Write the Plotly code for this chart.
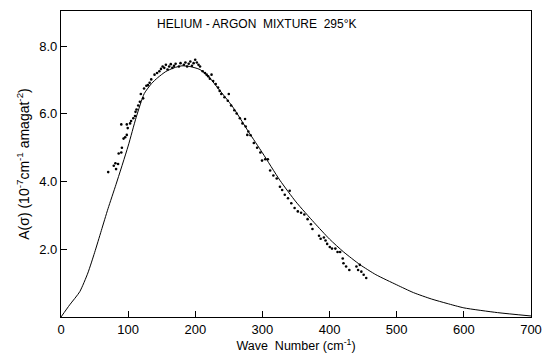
import plotly.graph_objects as go

# Theoretical curve (solid line)
curve_x = [0, 13, 28, 40, 50, 60, 70, 82, 100, 112, 124, 135, 144, 156, 168, 180, 192,
           207, 220, 231, 256, 280, 300, 326, 350, 377, 400, 421, 445, 469, 500, 525,
           552, 575, 600, 650, 700]
curve_y = [0, 0.36, 0.75, 1.3, 1.9, 2.55, 3.2, 3.92, 5.05, 5.9, 6.6, 6.9, 7.07, 7.25,
           7.36, 7.42, 7.40, 7.31, 7.1, 6.83, 6.2, 5.45, 4.85, 4.04, 3.4, 2.79, 2.3,
           1.92, 1.55, 1.25, 0.95, 0.72, 0.53, 0.4, 0.27, 0.13, 0.03]

# Measured points (dots)
point_x = [70.3, 78.6, 82, 81, 85, 85.9, 89.8, 90.7, 89.8, 93.2, 95.6, 98, 99.4, 98,
           102.9, 104.4, 107.7, 110.2, 111, 112.5, 115, 117.5, 118.9, 122.3, 123.7,
           127.1, 129.5, 132, 134.4, 139.3, 143.1, 146.5, 148.9, 151.4, 153.8, 156.2,
           158.7, 161.1, 163.5, 165.9, 168.4, 170.7,
           175.6, 178, 183, 185.3, 187.8, 190.2, 192.6, 195, 197.5, 199.9, 202.3,
           204.8, 207.1, 211, 214.4, 216.9, 219.3, 224.2, 221.7, 226.6, 230.4, 233.9,
           236.3, 238.7, 243.5, 249.9, 248.4, 253.3, 258.1, 261.6, 266.4, 274.1, 270.3,
           275.1, 279, 282.4,
           277.5, 287.2, 292.1, 296.9, 299.4, 304.2, 308.1, 311.5, 316.3, 321.3, 326.1,
           329.4, 333.3, 340.6, 338.1, 343, 347.9, 352.7, 357.6, 362.4, 367.3, 372.2,
           374.5, 384.3, 386.7, 391.5, 394, 396.4, 400.3, 403.6, 408.6, 411.9, 415.8,
           419.6, 420.7, 424.6, 429.4, 440, 442.5, 445, 447.3, 450.8, 454.6]
point_y = [4.28, 4.47, 4.37, 4.54, 4.52, 4.83, 4.86, 5.0, 5.69, 5.27, 5.31, 5.38, 5.58,
           5.69, 5.72, 5.79, 5.87, 5.94, 6.06, 6.13, 6.25, 6.36, 6.59, 6.46, 6.75,
           6.83, 6.85, 6.92, 7.02, 7.16, 7.21, 7.26, 7.33, 7.40, 7.36, 7.45, 7.31,
           7.40, 7.47, 7.36, 7.42, 7.48,
           7.40, 7.50, 7.45, 7.52, 7.40, 7.48, 7.55, 7.42, 7.50, 7.60, 7.52, 7.45,
           7.40, 7.26, 7.21, 7.16, 7.11, 7.16, 7.04, 6.97, 6.88, 6.78, 6.68, 6.59,
           6.49, 6.59, 6.39, 6.25, 6.11, 6.01, 5.87, 5.85, 5.72, 5.63, 5.48, 5.37,
           5.38, 5.14, 5.0, 4.86, 4.62, 4.66, 4.66, 4.33, 4.18, 4.09, 3.85, 3.75,
           3.61, 3.73, 3.51, 3.36, 3.22, 3.12, 3.08, 3.03, 2.89, 2.74, 2.60, 2.40,
           2.31, 2.35, 2.26, 2.16, 2.07, 2.02, 2.02, 1.92, 1.92, 1.73, 1.59, 1.49,
           1.39, 1.49, 1.39, 1.54, 1.34, 1.25, 1.15]

x_ticks = [0, 100, 200, 300, 400, 500, 600, 700]
y_ticks = [2, 4, 6, 8]
y_tick_labels = ["2.0", "4.0", "6.0", "8.0"]

title_text = "HELIUM - ARGON  MIXTURE  295°K"
x_title = "Wave  Number (cm<sup>-1</sup>)"
y_title = "A(σ) (10<sup>-7</sup>cm<sup>-1</sup> amagat<sup>-2</sup>)"

FONT = "Liberation Sans"

fig = go.Figure()
fig.add_trace(go.Scatter(x=curve_x, y=curve_y, mode="lines",
                         line=dict(color="black", width=1.0, shape="spline", smoothing=0.6),
                         hoverinfo="skip", showlegend=False))
fig.add_trace(go.Scatter(x=point_x, y=point_y, mode="markers",
                         marker=dict(color="black", size=2.6),
                         showlegend=False))

fig.add_annotation(x=292, y=8.66, xref="x", yref="y", text=title_text,
                   showarrow=False, font=dict(family=FONT, size=12, color="black"))

fig.update_layout(
    width=552, height=358,
    margin=dict(l=61, r=11, t=10, b=35),
    paper_bgcolor="white", plot_bgcolor="white",
    font=dict(family=FONT, color="black"),
)
fig.update_xaxes(range=[0, 700], tickvals=x_ticks, ticks="inside", ticklen=6,
                 tickcolor="black", tickwidth=1, showline=True, linecolor="black",
                 linewidth=1.2, mirror=True, showgrid=False, zeroline=False,
                 tickfont=dict(family=FONT, size=13),
                 title=dict(text=x_title, font=dict(family=FONT, size=12.5), standoff=3))
fig.update_yaxes(range=[0, 9.04], tickvals=y_ticks, ticktext=y_tick_labels,
                 ticks="inside", ticklen=6, tickcolor="black", tickwidth=1,
                 showline=True, linecolor="black", linewidth=1.2, mirror=True,
                 showgrid=False, zeroline=False,
                 tickfont=dict(family=FONT, size=13),
                 title=dict(text=y_title, font=dict(family=FONT, size=14), standoff=6))

fig.write_html("out.html")
